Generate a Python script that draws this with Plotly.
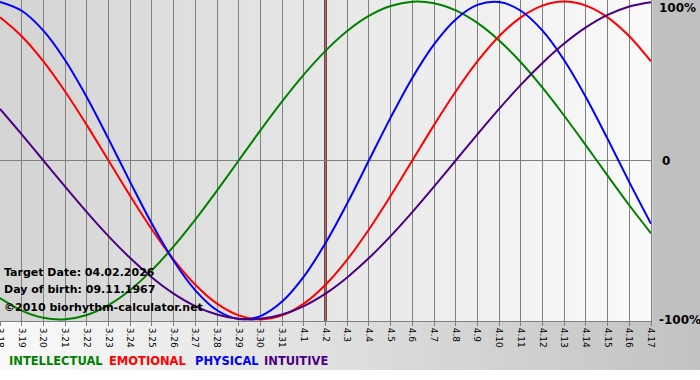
import plotly.graph_objects as go

# ---- data ----
dates = ['3.18', '3.19', '3.20', '3.21', '3.22', '3.23', '3.24', '3.25', '3.26', '3.27',
         '3.28', '3.29', '3.30', '3.31', '4.1', '4.2', '4.3', '4.4', '4.5', '4.6',
         '4.7', '4.8', '4.9', '4.10', '4.11', '4.12', '4.13', '4.14', '4.15', '4.16', '4.17']

physical = [0.9977, 0.9423, 0.8170, 0.6311, 0.3984, 0.1362, -0.1362, -0.3984, -0.6311, -0.8170,
            -0.9423, -0.9977, -0.9791, -0.8879, -0.7308, -0.5196, -0.2698, 0.0, 0.2698, 0.5196,
            0.7308, 0.8879, 0.9791, 0.9977, 0.9423, 0.8170, 0.6311, 0.3984, 0.1362, -0.1362, -0.3984]

emotional = [0.9010, 0.7818, 0.6235, 0.4339, 0.2225, 0.0, -0.2225, -0.4339, -0.6235, -0.7818,
             -0.9010, -0.9749, -1.0, -0.9749, -0.9010, -0.7818, -0.6235, -0.4339, -0.2225, 0.0,
             0.2225, 0.4339, 0.6235, 0.7818, 0.9010, 0.9749, 1.0, 0.9749, 0.9010, 0.7818, 0.6235]

intellectual = [-0.8660, -0.9450, -0.9898, -0.9989, -0.9718, -0.9096, -0.8146, -0.6901, -0.5406, -0.3717,
                -0.1893, 0.0, 0.1893, 0.3717, 0.5406, 0.6901, 0.8146, 0.9096, 0.9718, 0.9989,
                0.9898, 0.9450, 0.8660, 0.7557, 0.6182, 0.4582, 0.2817, 0.0951, -0.0951, -0.2817, -0.4582]

intuitive = [0.3247, 0.1646, 0.0, -0.1646, -0.3247, -0.4759, -0.6142, -0.7357, -0.8372, -0.9158,
             -0.9694, -0.9966, -0.9966, -0.9694, -0.9158, -0.8372, -0.7357, -0.6142, -0.4759, -0.3247,
             -0.1646, 0.0, 0.1646, 0.3247, 0.4759, 0.6142, 0.7357, 0.8372, 0.9158, 0.9694, 0.9966]

target_date = '4.2'
y_ticktext = ['100%', '0', '-100%']
info_lines = ['Target Date: 04.02.2026', 'Day of birth: 09.11.1967', '\u00a92010 biorhythm-calculator.net']
series_names = ['INTELLECTUAL', 'EMOTIONAL', 'PHYSICAL', 'INTUITIVE']
series_colors = ['#008000', '#ff0000', '#0000ff', '#4b0082']
series_values = [intellectual, emotional, physical, intuitive]

# ---- geometry ----
W, H = 700, 380
ML, MR, MT, MB = 0, 49, 0, 59
PW, PH = W - ML - MR, H - MT - MB
FONT = 'DejaVu Sans'


def px(x):
    return (x - ML) / PW


def py(y):
    return (MT + PH - y) / PH


def gray(v):
    v = int(round(v))
    return f'rgb({v},{v},{v})'


fig = go.Figure()
for name, vals, col in zip(series_names, series_values, series_colors):
    fig.add_trace(go.Scatter(x=dates, y=vals, mode='lines', name=name,
                             line=dict(color=col, width=2, shape='spline', smoothing=1.0),
                             hoverinfo='skip'))

shapes = []
# right panel
shapes.append(dict(type='rect', xref='paper', yref='paper', x0=1, x1=px(W), y0=0, y1=1,
                   fillcolor='#c0c0c0', line_width=0, layer='below'))
# plot area gradient
n = 93
for i in range(n):
    c = 212 + (250 - 212) * (i + 0.5) / n
    shapes.append(dict(type='rect', xref='paper', yref='paper', x0=i / n, x1=(i + 1) / n + 0.002,
                       y0=0, y1=1, fillcolor=gray(c), line_width=0, layer='below'))
# bottom strip gradient
m = 70
for i in range(m):
    c = 250 + (194 - 250) * (i + 0.5) / m
    shapes.append(dict(type='rect', xref='paper', yref='paper', x0=px(i * W / m), x1=px((i + 1) * W / m + 1),
                       y0=py(370), y1=0, fillcolor=gray(c), line_width=0, layer='below'))
# target date line
ti = dates.index(target_date)
shapes.append(dict(type='line', xref='x', yref='paper', x0=ti, x1=ti, y0=0, y1=1,
                   line=dict(color='#700000', width=2.5), layer='between'))

annotations = []
for txt, yy in zip(y_ticktext, [8, 161, 320]):
    annotations.append(dict(text=txt, xref='paper', yref='paper', x=px(657 if txt != '0' else 660), y=py(yy),
                            xanchor='left', yanchor='middle', showarrow=False,
                            font=dict(family=FONT, size=12, color='#000000', weight='bold')))
for txt, yy in zip(info_lines, [272, 289, 307]):
    annotations.append(dict(text=txt, xref='paper', yref='paper', x=px(2), y=py(yy),
                            xanchor='left', yanchor='middle', showarrow=False,
                            font=dict(family=FONT, size=11, color='#000000', weight='bold')))
xs = [7, 107, 193, 262]
for txt, col, xx in zip(series_names, series_colors, xs):
    annotations.append(dict(text=txt, xref='paper', yref='paper', x=px(xx), y=py(361),
                            xanchor='left', yanchor='middle', showarrow=False,
                            font=dict(family=FONT, size=11.5, color=col, weight='bold')))

fig.update_layout(
    width=W, height=H,
    margin=dict(l=ML, r=MR, t=MT, b=MB, pad=0, autoexpand=False),
    paper_bgcolor='#ffffff', plot_bgcolor='#e6e6e6',
    showlegend=False,
    shapes=shapes, annotations=annotations,
    xaxis=dict(type='category', range=[0, len(dates) - 1], showgrid=True, gridcolor='#808080', gridwidth=1,
               showline=True, linecolor='#808080', linewidth=1, mirror=True, automargin=False,
               ticks='outside', ticklen=4, tickcolor='#808080', tickangle=90,
               tickfont=dict(family=FONT, size=9, color='#000000'), zeroline=False, fixedrange=True),
    yaxis=dict(range=[-1.01, 1.01], showgrid=False, zeroline=True, zerolinecolor='#808080', zerolinewidth=1,
               showline=True, linecolor='#808080', linewidth=1, mirror=True, automargin=False,
               showticklabels=False, ticks='', fixedrange=True),
)

fig.write_html('out.html', config={'displayModeBar': False},
               post_script="document.body.style.margin='0';document.body.style.padding='0';")
